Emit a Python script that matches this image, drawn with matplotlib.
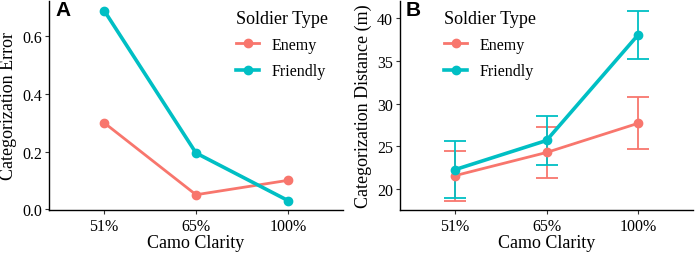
import matplotlib
matplotlib.use("Agg")
import matplotlib.pyplot as plt
from matplotlib.lines import Line2D

categories = ["51%", "65%", "100%"]
err_enemy = [0.30, 0.05, 0.10]
err_friendly = [0.69, 0.195, 0.03]

dist_enemy = [21.6, 24.3, 27.7]
dist_enemy_lo = [18.7, 21.3, 24.7]
dist_enemy_hi = [24.5, 27.3, 30.8]
dist_friendly = [22.3, 25.7, 38.0]
dist_friendly_lo = [19.0, 22.9, 35.2]
dist_friendly_hi = [25.6, 28.5, 40.8]

C_EN = "#F8766D"
C_FR = "#00BFC4"
SERIF = ["Liberation Serif", "DejaVu Serif"]
plt.rcParams["font.family"] = SERIF

fig = plt.figure(figsize=(6.99, 2.55), dpi=100)
axA = fig.add_axes([49/699, 44/255, 294/699, 209/255])
axB = fig.add_axes([400/699, 44/255, 293/699, 209/255])

x = list(range(1, len(categories) + 1))

def style(ax):
    for s in ["top", "right"]:
        ax.spines[s].set_visible(False)
    for s in ["left", "bottom"]:
        ax.spines[s].set_linewidth(1.0)
    ax.set_xlim(0.4, 3.6)
    ax.set_xticks(x)
    ax.set_xticklabels(categories)
    ax.tick_params(axis="both", labelsize=11.5, length=3, width=0.8, color="#333333", pad=2)
    ax.tick_params(axis="x", pad=3)
    ax.set_xlabel("Camo Clarity", fontsize=13, labelpad=0)

# Panel A
axA.plot(x, err_enemy, color=C_EN, lw=2.0, marker="o", ms=6, zorder=3)
axA.plot(x, err_friendly, color=C_FR, lw=2.6, marker="o", ms=6, zorder=3)
axA.set_ylim(-0.003, 0.723)
axA.set_yticks([0.0, 0.2, 0.4, 0.6])
axA.set_yticklabels(["0.0", "0.2", "0.4", "0.6"])
axA.set_ylabel("Categorization Error", fontsize=13, labelpad=4)
style(axA)

# Panel B
def errs(v, lo, hi):
    return [[a - b for a, b in zip(v, lo)], [c - a for a, c in zip(v, hi)]]

axB.errorbar(x, dist_enemy, yerr=errs(dist_enemy, dist_enemy_lo, dist_enemy_hi),
             color=C_EN, lw=2.0, marker="o", ms=6, elinewidth=1.3, capsize=8, capthick=1.3, zorder=3)
axB.errorbar(x, dist_friendly, yerr=errs(dist_friendly, dist_friendly_lo, dist_friendly_hi),
             color=C_FR, lw=2.6, marker="o", ms=6, elinewidth=1.3, capsize=8, capthick=1.3, zorder=3)
axB.set_ylim(17.6, 41.95)
axB.set_yticks([20, 25, 30, 35, 40])
axB.set_ylabel("Categorization Distance (m)", fontsize=13, labelpad=4)
style(axB)

handles = [Line2D([0], [0], color=C_EN, lw=2.0, marker="o", ms=6),
           Line2D([0], [0], color=C_FR, lw=2.6, marker="o", ms=6)]
for ax, loc in [(axA, (0.594, 1.02)), (axB, (0.108, 1.02))]:
    leg = ax.legend(handles, ["Enemy", "Friendly"], title="Soldier Type", loc="upper left",
                    bbox_to_anchor=loc, frameon=False, fontsize=11.5, title_fontsize=13,
                    handlelength=1.4, handletextpad=0.8, labelspacing=0.65, borderpad=0.3)
    leg._legend_box.align = "left"

fig.text(55/699, 1 - 11/255, "A", fontsize=15, fontweight="bold",
         family=["Liberation Sans", "DejaVu Sans"], va="center", ha="left")
fig.text(406/699, 1 - 11/255, "B", fontsize=15, fontweight="bold",
         family=["Liberation Sans", "DejaVu Sans"], va="center", ha="left")

fig.savefig("out.png", dpi=100)
